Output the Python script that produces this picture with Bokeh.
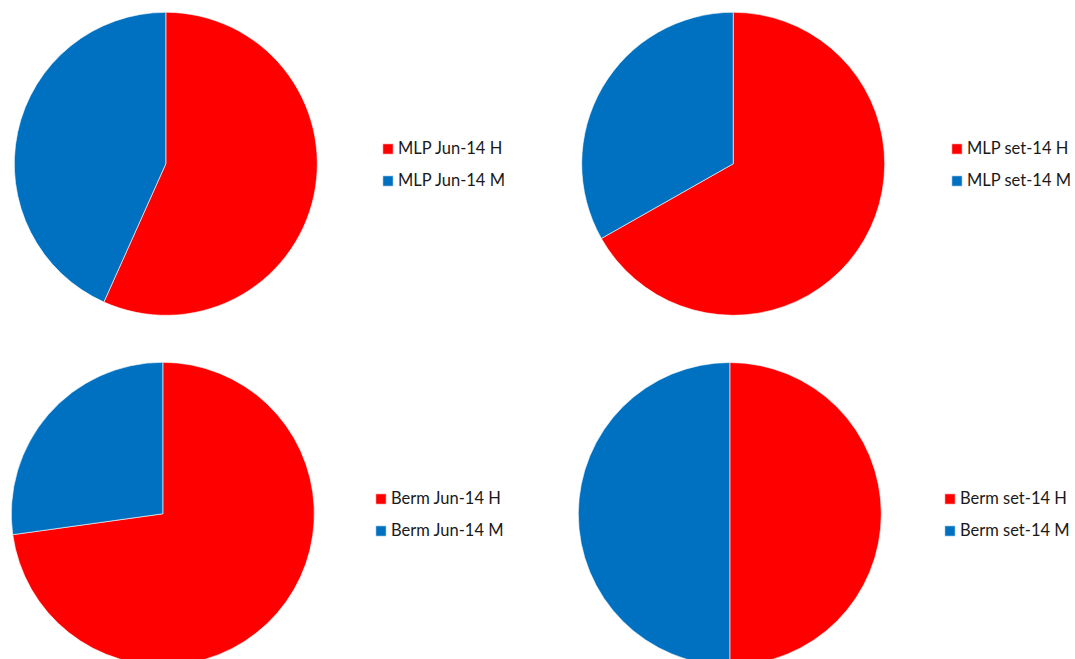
import numpy as np
from bokeh.plotting import figure
from bokeh.models import Range1d, Legend, LegendItem, ColumnDataSource
from bokeh.embed import file_html
from bokeh.resources import INLINE

# Share of H and M per site and month (percent)
series_names = ["MLP Jun-14", "MLP set-14", "Berm Jun-14", "Berm set-14"]
h_values = [56.7, 66.8, 72.8, 50.0]
m_values = [43.3, 33.2, 27.2, 50.0]
slice_suffixes = ["H", "M"]
slice_colors = ["#FF0000", "#0070C0"]

W, H = 1075, 659

# layout: pie centres (x, y from the bottom), radius, legend anchors
pie_centers = [(165.3, 495.7), (732.7, 495.7), (162.3, 145.7), (729.3, 145.5)]
pie_radius = 151.5
legend_anchors = [(381, 469), (950, 469), (374, 119), (943, 119)]

p = figure(width=W, height=H, output_backend="svg", toolbar_location=None,
           x_range=Range1d(0, W), y_range=Range1d(0, H),
           min_border=0, outline_line_color=None)
p.axis.visible = False
p.grid.visible = False
p.background_fill_color = "white"
p.border_fill_color = "white"

for name, hv, mv, (cx, cy), (lx, ly) in zip(series_names, h_values, m_values,
                                             pie_centers, legend_anchors):
    vals = np.array([hv, mv], dtype=float)
    frac = vals / vals.sum()
    ends = np.cumsum(frac) * 2 * np.pi
    starts = np.concatenate([[0.0], ends[:-1]])
    # clockwise from twelve o'clock
    renderers = []
    for i in range(len(vals)):
        src = ColumnDataSource(dict(
            x=[cx], y=[cy],
            start=[np.pi / 2 - starts[i]],
            end=[np.pi / 2 - ends[i]],
            color=[slice_colors[i]],
        ))
        r = p.wedge(x="x", y="y", radius=pie_radius,
                    start_angle="start", end_angle="end", direction="clock",
                    fill_color="color", line_color="white", line_width=0.6,
                    source=src)
        renderers.append(r)

    legend = Legend(
        items=[LegendItem(label=f"{name} {s}", renderers=[r])
               for s, r in zip(slice_suffixes, renderers)],
        location=(lx, ly), orientation="vertical",
        padding=0, margin=0, spacing=12,
        glyph_width=13, glyph_height=13, label_height=20,
        label_standoff=4,
        label_text_font="Lato", label_text_font_size="16.5px",
        label_text_color="#1a1a1a",
        border_line_alpha=0, background_fill_alpha=0,
    )
    p.add_layout(legend, "center")

open("out.html", "w").write(file_html(p, INLINE))
